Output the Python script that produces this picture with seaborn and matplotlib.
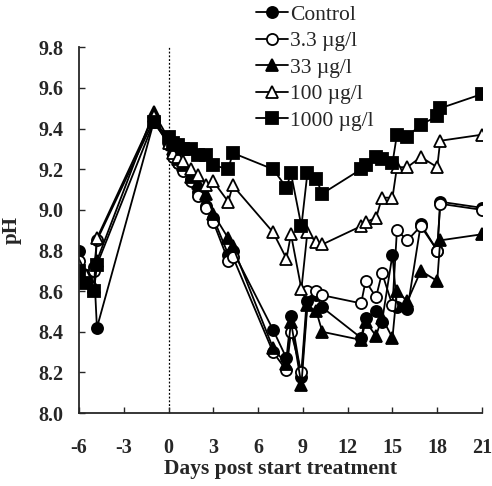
import numpy as np
import pandas as pd
import matplotlib
matplotlib.use("Agg")
import matplotlib.pyplot as plt
import seaborn as sns

# ---- data ----
days_left = [-6.0, -5.5, -5.0, -4.8, -1.0, 0.0, 0.3, 0.6, 1.0, 1.5, 2.0, 2.5, 3.0, 4.0, 4.3]
days_mid = [7.0, 7.9, 8.2, 8.9, 9.3, 9.9, 10.3]
days_right = [12.9, 13.2, 13.9, 14.3, 15.0, 15.3, 16.0, 16.9, 18.0, 18.2, 21.0]

control_ph = [8.80, 8.68, 8.72, 8.42, 9.43, 9.33, 9.27, 9.23, 9.20, 9.15, 9.09, 9.02, 8.96, 8.78, 8.80,
              8.41, 8.27, 8.48, 8.18, 8.55, 8.58, 8.52,
              8.37, 8.47, 8.50, 8.45, 8.78, 8.52, 8.51, 8.93, 8.80, 9.04, 9.01]
ug3_3_ph = [8.75, 8.65, 8.70, 8.85, 9.44, 9.32, 9.26, 9.23, 9.19, 9.14, 9.07, 9.01, 8.94, 8.75, 8.77,
            8.30, 8.21, 8.40, 8.20, 8.60, 8.60, 8.58,
            8.54, 8.65, 8.57, 8.69, 8.53, 8.90, 8.85, 8.92, 8.80, 9.03, 9.00]
ug33_ph = [8.72, 8.66, 8.62, 8.75, 9.48, 9.35, 9.30, 9.25, 9.22, 9.16, 9.13, 9.08, 8.98, 8.86, 8.82,
           8.32, 8.24, 8.45, 8.14, 8.53, 8.50, 8.40,
           8.36, 8.45, 8.38, 8.47, 8.37, 8.60, 8.55, 8.70, 8.65, 8.85, 8.88]
ug100_ph = [8.73, 8.68, 8.62, 8.86, 9.46, 9.33, 9.28, 9.26, 9.24, 9.20, 9.17, 9.12, 9.14, 9.04, 9.12,
            8.89, 8.76, 8.88, 8.61, 8.89, 8.84, 8.83,
            8.92, 8.94, 8.96, 9.06, 9.06, 9.21, 9.21, 9.26, 9.21, 9.34, 9.37]
ug1000_ph = [8.70, 8.64, 8.60, 8.73, 9.43, 9.36, 9.33, 9.32, 9.30, 9.30, 9.27, 9.27, 9.22, 9.20, 9.28,
             9.20, 9.11, 9.18, 8.92, 9.18, 9.15, 9.08,
             9.20, 9.22, 9.26, 9.25, 9.23, 9.37, 9.36, 9.42, 9.46, 9.50, 9.57]

series_labels = ["Control", "3.3 \u00b5g/l", "33 \u00b5g/l", "100 \u00b5g/l", "1000 \u00b5g/l"]
x_ticks = [-6, -3, 0, 3, 6, 9, 12, 15, 18, 21]
y_ticks = [8.0, 8.2, 8.4, 8.6, 8.8, 9.0, 9.2, 9.4, 9.6, 9.8]

days = days_left + days_mid + days_right
values = [control_ph, ug3_3_ph, ug33_ph, ug100_ph, ug1000_ph]
df = pd.concat([pd.DataFrame({"day": days, "pH": v, "group": lab})
                for v, lab in zip(values, series_labels)], ignore_index=True)

# ---- style ----
sns.set_style("ticks")
plt.rcParams["font.family"] = ["Liberation Serif", "DejaVu Serif"]

fig = plt.figure(figsize=(4.92, 4.86), dpi=100)
ax = fig.add_axes([0.1606, 0.150, 0.8191, 0.7527])

styles = {
    "Control": dict(marker="o", mfc="black", ms=8),
    "3.3 \u00b5g/l": dict(marker="o", mfc="white", ms=8),
    "33 \u00b5g/l": dict(marker="^", mfc="black", ms=8.5),
    "100 \u00b5g/l": dict(marker="^", mfc="white", ms=8.5),
    "1000 \u00b5g/l": dict(marker="s", mfc="black", ms=8.5),
}
for lab in series_labels:
    st = styles[lab]
    sub = df[df["group"] == lab]
    sns.lineplot(data=sub, x="day", y="pH", ax=ax, estimator=None, sort=False,
                 color="black", linewidth=1.3, marker=st["marker"],
                 markerfacecolor=st["mfc"], markeredgecolor="black",
                 markeredgewidth=1.3, markersize=st["ms"], label=lab)

ax.axvline(0, color="black", linestyle=(0, (1.5, 1.5)), linewidth=0.9, zorder=0)

ax.set_xlim(-6, 21)
ax.set_ylim(8.0, 9.8)
ax.set_xticks(x_ticks)
ax.set_xticklabels([str(t) for t in x_ticks])
ax.set_yticks(y_ticks)
ax.set_yticklabels([f"{t:.1f}" for t in y_ticks])
ax.tick_params(axis="both", direction="in", length=4, width=1, labelsize=14.5)
ax.tick_params(axis="x", pad=18)
ax.tick_params(axis="y", pad=11)
for t in ax.get_xticklabels() + ax.get_yticklabels():
    t.set_fontweight("bold")
for s in ["top", "right"]:
    ax.spines[s].set_visible(False)
for s in ["left", "bottom"]:
    ax.spines[s].set_linewidth(1.3)

ax.set_xlabel("Days post start treatment", fontsize=15.5, fontweight="bold", labelpad=1)
ax.set_ylabel("pH", fontsize=15, fontweight="bold", labelpad=12)

leg = ax.legend(loc="upper left", bbox_to_anchor=(0.515, 0.995),
                bbox_transform=fig.transFigure, frameon=False, fontsize=15.5,
                handlelength=1.5, handletextpad=0.1, labelspacing=0.3,
                borderaxespad=0, borderpad=0.1)

fig.savefig("out.png", dpi=100)
